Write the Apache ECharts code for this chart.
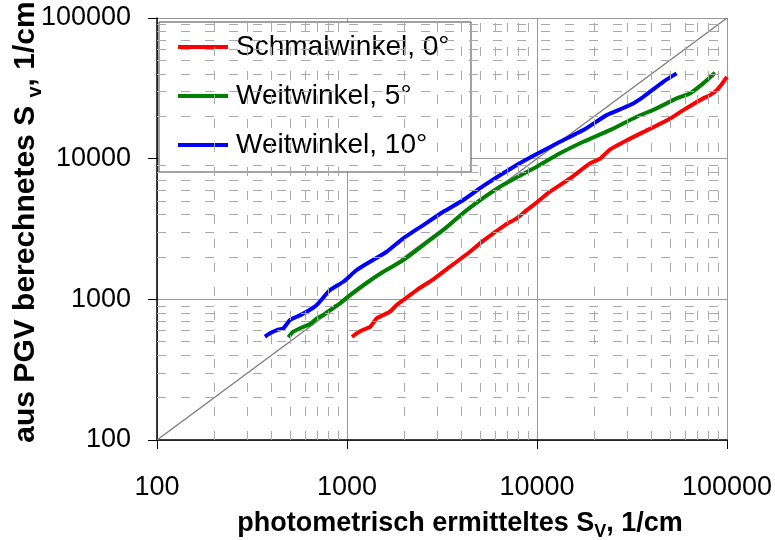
<!DOCTYPE html>
<html>
<head>
<meta charset="utf-8">
<script src="https://cdn.jsdelivr.net/npm/echarts@6/dist/echarts.min.js"></script>
<style>html,body{margin:0;padding:0;background:#fff;}#c{width:775px;height:540px;}</style>
</head>
<body>
<div id="c"></div>
<script>
// Data (x = photometric Sv, y = computed Sv)
const seriesNames = ['Schmalwinkel, 0°', 'Weitwinkel, 5°', 'Weitwinkel, 10°'];
const redX = [1063,1130,1210,1320,1440,1553,1683,1827,1978,2327,2846,3484,4439,5200,6790,7820,8830,10000,11700,14920,19010,21500,24200,30000,39350,50000,58900,67000,75000,81400,88300,94000,100000];
const redY = [540,575,605,635,736,773,817,911,989,1164,1387,1706,2179,2600,3373,3764,4310,4900,5820,7244,9260,10000,11600,13600,16300,19200,22150,24600,26830,28300,30730,34000,38200];
const greenX = [491,522,566,639,693,750,814,919,1037,1218,1553,1978,2521,3213,4270,6390,9960,13210,17530,24200,33500,42660,54300,63800,75000,86500];
const greenY = [537,589,622,668,733,773,839,937,1073,1264,1571,1902,2432,3108,4310,6310,8760,10910,13180,15970,19860,22780,26830,29100,34300,40800];
const blueX = [370,393,427,462,501,544,614,693,814,956,1125,1321,1618,1978,2521,3213,4095,5218,7820,9960,13210,17530,23280,30870,36300,46200,54300];
const blueY = [542,573,605,622,713,752,817,911,1164,1334,1616,1850,2179,2714,3373,4195,5080,6400,9010,10780,13180,15970,20400,24040,27540,35200,40370];
const diagX = [100,100000];
const diagY = [100,100000];
const tickValues = [100,1000,10000,100000];
const tickLabels = ['100','1000','10000','100000'];
const minorValues = [200,300,400,500,600,700,800,900,2000,3000,4000,5000,6000,7000,8000,9000,20000,30000,40000,50000,60000,70000,80000,90000];

const zip = (a,b) => a.map((v,i) => [v, b[i]]);
const FONT = '"Liberation Sans", Arial, sans-serif';
const labelFmt = v => { const r = Math.round(v); const i = tickValues.indexOf(r); return i >= 0 ? tickLabels[i] : ''; };

const minorLines = [];
minorValues.forEach(v => { minorLines.push({xAxis: v}); minorLines.push({yAxis: v}); });

const chart = echarts.init(document.getElementById('c'), null, {renderer: 'canvas'});
const axisCommon = {
  type: 'log', logBase: 10, min: 100, max: 100000,
  axisLine: {show: true, lineStyle: {color: '#000', width: 1.5}},
  axisTick: {show: true, inside: false, length: 9, lineStyle: {color: '#000', width: 1}},
  splitLine: {show: true, lineStyle: {color: '#999', width: 1}},
  minorTick: {show: false}, minorSplitLine: {show: false},
  axisLabel: {color: '#000', fontSize: 27, fontFamily: FONT, formatter: labelFmt}
};
chart.setOption({
  animation: false,
  backgroundColor: '#fff',
  grid: {left: 157, right: 48, top: 18, bottom: 100, containLabel: false, outerBoundsMode: 'none'},
  xAxis: Object.assign({}, axisCommon, {
    axisLabel: Object.assign({}, axisCommon.axisLabel, {margin: 34}),
    name: '{b|photometrisch ermitteltes S}{s|V}{b|, 1/cm}',
    nameLocation: 'middle', nameGap: 67, nameMoveOverlap: false,
    nameTextStyle: {padding: [0,0,0,36], rich: {
      b: {fontSize: 27, fontWeight: 'bold', fontFamily: FONT, color: '#000', lineHeight: 34},
      s: {fontSize: 18, fontWeight: 'bold', fontFamily: FONT, color: '#000', lineHeight: 18, verticalAlign: 'bottom'}
    }}
  }),
  yAxis: Object.assign({}, axisCommon, {
    axisLabel: Object.assign({}, axisCommon.axisLabel, {margin: 26}),
    name: '{b|aus PGV berechnetes S }{s|v}{b|, 1/cm}',
    nameLocation: 'middle', nameGap: 112, nameMoveOverlap: false,
    nameTextStyle: {padding: [0,0,0,14], rich: {
      b: {fontSize: 30, fontWeight: 'bold', fontFamily: FONT, color: '#000', lineHeight: 38},
      s: {fontSize: 20, fontWeight: 'bold', fontFamily: FONT, color: '#000', lineHeight: 20, verticalAlign: 'bottom'}
    }}
  }),
  legend: {
    data: seriesNames, orient: 'vertical', left: 159, top: 22,
    padding: [9, 12, 11, 17], itemGap: 17, itemWidth: 50, itemHeight: 4,
    lineStyle: {width: 4},
    backgroundColor: '#fff', borderColor: '#444', borderWidth: 1,
    textStyle: {fontSize: 28, fontFamily: FONT, color: '#000', lineHeight: 32, width: 223, padding: [0,0,0,3]}
  },
  series: [
    {type: 'line', name: 'diag', data: zip(diagX, diagY), symbol: 'none', silent: true,
     lineStyle: {color: '#808080', width: 1.5}, z: 1,
     markLine: {silent: true, symbol: ['none','none'], label: {show: false}, animation: false,
       lineStyle: {color: '#aaa', width: 1, type: [9, 15]}, emphasis: {disabled: true}, data: minorLines}},
    {type: 'line', name: seriesNames[0], data: zip(redX, redY), symbol: 'none', smooth: 0.2, color: '#ff0000', lineStyle: {width: 4}, z: 3},
    {type: 'line', name: seriesNames[1], data: zip(greenX, greenY), symbol: 'none', smooth: 0.2, color: '#008000', lineStyle: {width: 4}, z: 3},
    {type: 'line', name: seriesNames[2], data: zip(blueX, blueY), symbol: 'none', smooth: 0.2, color: '#0000ff', lineStyle: {width: 4}, z: 3}
  ]
});
</script>
</body>
</html>
